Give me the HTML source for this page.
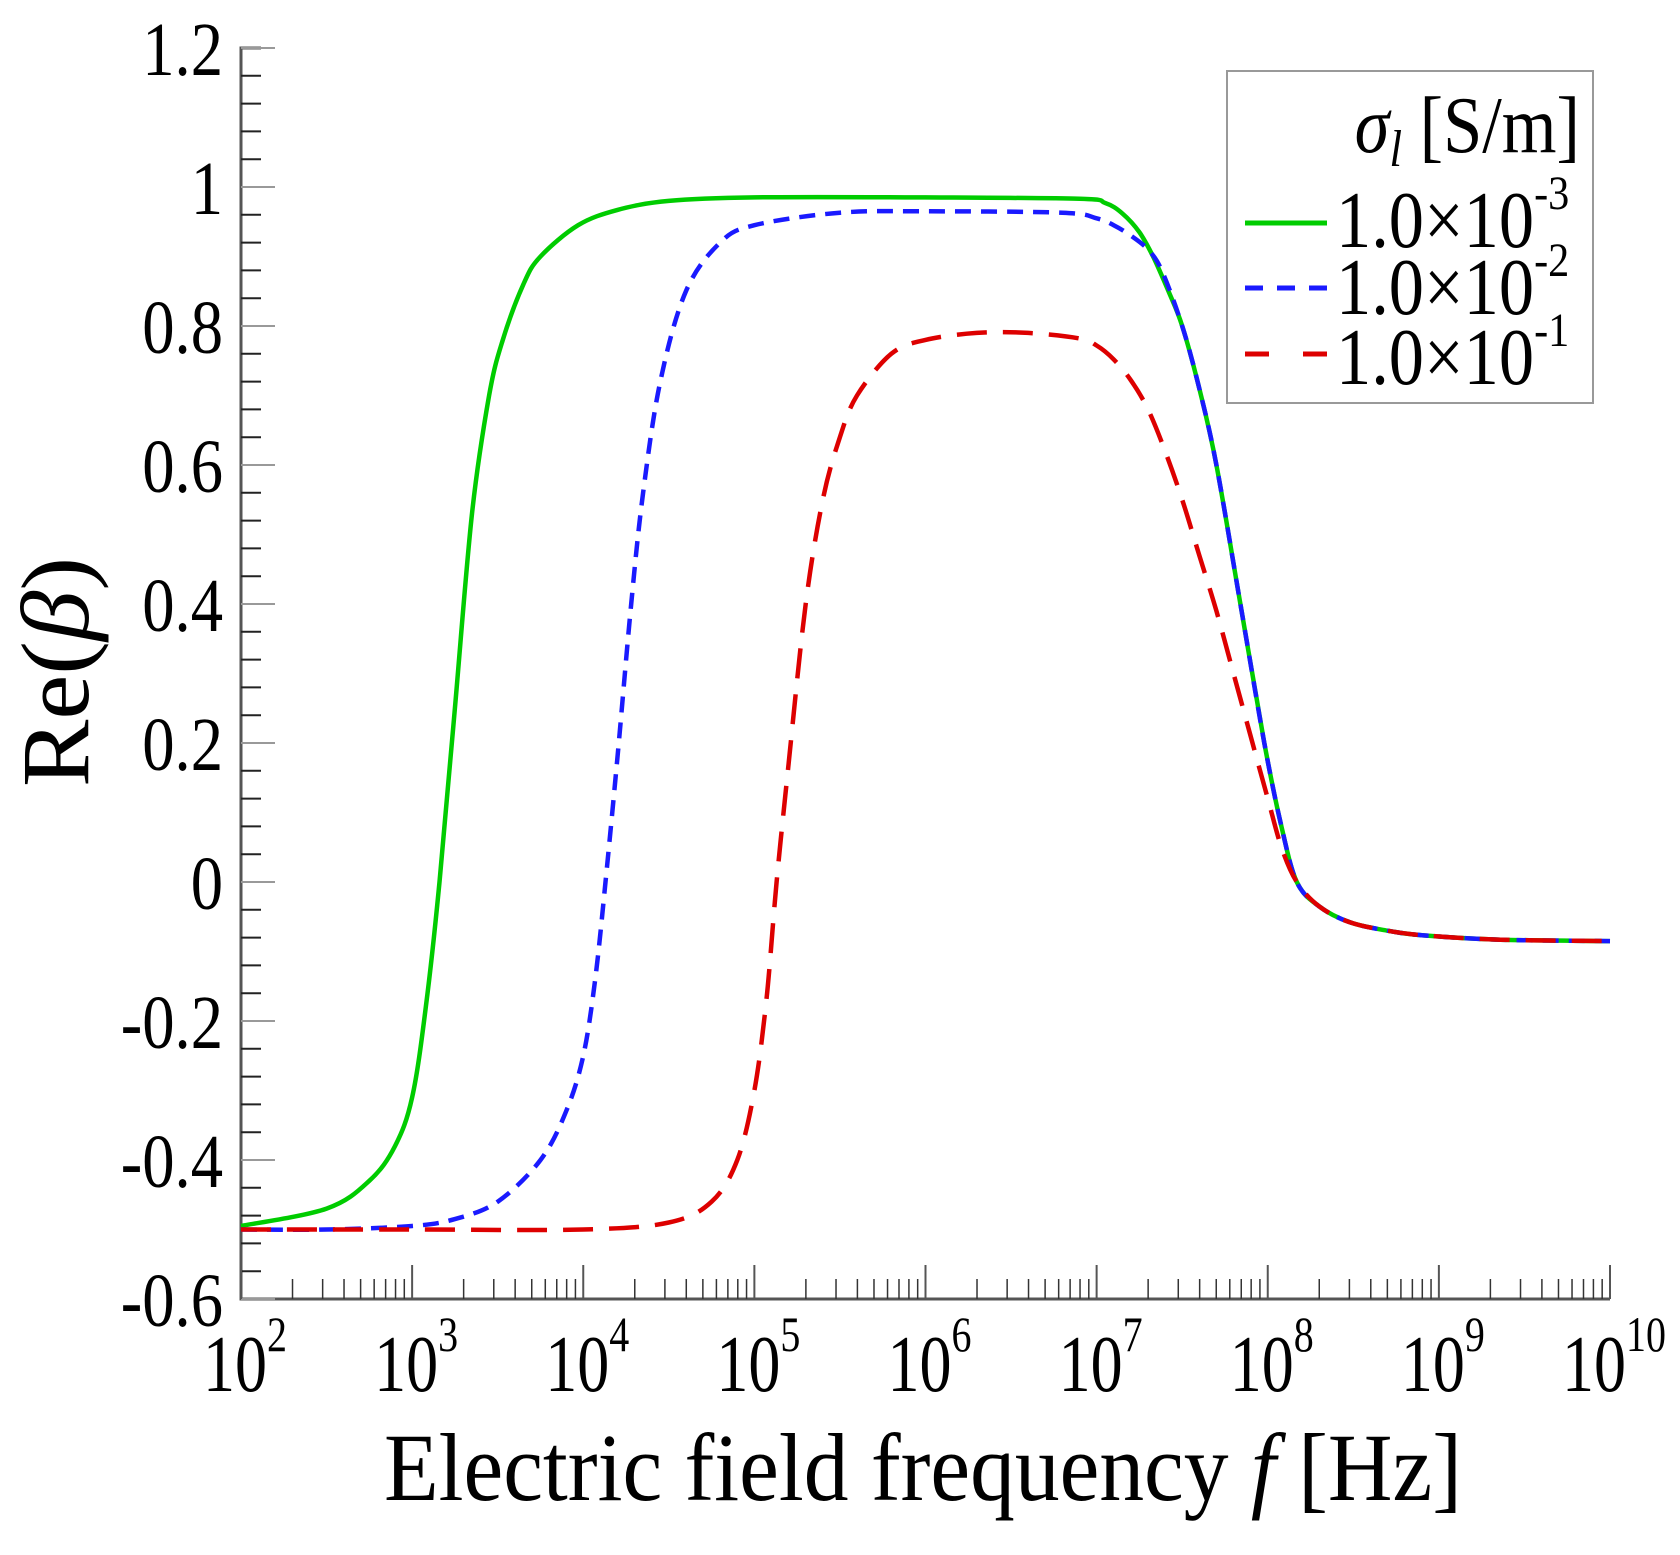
<!DOCTYPE html>
<html><head><meta charset="utf-8"><style>
body{margin:0;background:#fff}
svg{display:block}
text{font-family:"Liberation Serif",serif;fill:#000}
</style></head><body>
<svg id="chart" width="1680" height="1555" viewBox="0 0 1680 1555" xmlns="http://www.w3.org/2000/svg">
<g id="axes"></g>
<g id="series"></g>
<g id="legend">
<rect x="1227" y="71" width="366" height="332" fill="#fff" stroke="#999" stroke-width="2"/>
<text transform="translate(1580,152) scale(0.88,1)" font-size="80" text-anchor="end"><tspan font-style="italic">σ</tspan><tspan font-style="italic" font-size="52" dy="14">l</tspan><tspan dy="-14"> [S/m]</tspan></text>
<line x1="1245" y1="223" x2="1327" y2="223" stroke="#00cc00" stroke-width="5"/>
<line x1="1245" y1="288" x2="1327" y2="288" stroke="#1a1aff" stroke-width="5" stroke-dasharray="18,14"/>
<line x1="1245" y1="354" x2="1327" y2="354" stroke="#dd0000" stroke-width="5" stroke-dasharray="24,34"/>
<text transform="translate(1336,247) scale(0.88,1)" font-size="80">1.0×10<tspan font-size="48" dy="-38">-3</tspan></text>
<text transform="translate(1336,314) scale(0.88,1)" font-size="80">1.0×10<tspan font-size="48" dy="-38">-2</tspan></text>
<text transform="translate(1336,384) scale(0.88,1)" font-size="80">1.0×10<tspan font-size="48" dy="-38">-1</tspan></text>
</g>
</svg>
<script>
const yTicks=[1.2,1,0.8,0.6,0.4,0.2,0,-0.2,-0.4,-0.6];
const yTickLabels=["1.2","1","0.8","0.6","0.4","0.2","0","-0.2","-0.4","-0.6"];
const xDecades=[2,3,4,5,6,7,8,9,10];
const greenLogF=[2,2.5,2.75,2.9,3.0,3.08,3.16,3.25,3.35,3.45,3.53,3.65,3.75,3.97,4.2,4.5,5,6,6.9,7.05,7.15,7.25,7.33,7.42,7.5,7.6,7.7,7.84,7.98,8.08,8.17,8.3,8.48,8.7,8.92,9.36,10];
const greenVals=[-0.495,-0.47,-0.43,-0.38,-0.31,-0.18,0,0.25,0.53,0.7,0.78,0.86,0.9,0.945,0.967,0.98,0.985,0.985,0.983,0.977,0.962,0.935,0.9,0.85,0.8,0.71,0.6,0.4,0.2,0.08,0.0,-0.035,-0.058,-0.07,-0.077,-0.083,-0.085];
const blueLogF=[2,2.5,3.0,3.25,3.5,3.75,3.9,4.0,4.07,4.13,4.2,4.28,4.35,4.45,4.6,4.8,5.0,5.5,6,6.8,7.0,7.1,7.2,7.3,7.38,7.5,7.6,7.7,7.84,7.98,8.08,8.17,8.3,8.48,8.7,8.92,9.36,10];
const blueVals=[-0.5,-0.5,-0.495,-0.485,-0.46,-0.4,-0.33,-0.25,-0.14,0,0.18,0.4,0.56,0.72,0.85,0.92,0.945,0.963,0.965,0.963,0.955,0.945,0.93,0.91,0.88,0.8,0.71,0.6,0.4,0.2,0.08,0.0,-0.035,-0.058,-0.07,-0.077,-0.083,-0.085];
const redLogF=[2,3,4.0,4.5,4.75,4.9,5.0,5.07,5.13,5.2,5.3,5.4,5.5,5.6,5.8,6.0,6.3,6.6,6.9,7.0,7.1,7.2,7.3,7.4,7.5,7.6,7.7,7.8,7.9,8.0,8.08,8.17,8.3,8.48,8.7,8.92,9.36,10];
const redVals=[-0.5,-0.5,-0.5,-0.49,-0.46,-0.4,-0.3,-0.17,0,0.17,0.4,0.55,0.64,0.7,0.76,0.78,0.79,0.79,0.782,0.772,0.752,0.722,0.68,0.62,0.55,0.47,0.39,0.3,0.21,0.12,0.05,0.0,-0.035,-0.058,-0.07,-0.077,-0.083,-0.085];

const NS='http://www.w3.org/2000/svg';
const X0=241,X1=1610,Y0=48,Y1=1299;
function xs(l){return X0+(l-2)/8*(X1-X0);}
function ys(v){return Y0+(1.2-v)/1.8*(Y1-Y0);}
function mk(tag,attrs,parent){const e=document.createElementNS(NS,tag);for(const k in attrs)e.setAttribute(k,attrs[k]);parent.appendChild(e);return e;}
const axes=document.getElementById('axes');
const frame=mk('path',{d:`M${X1},${Y1} L${X0},${Y1} L${X0},${Y0} L${X0+20},${Y0}`,fill:'none',stroke:'#555','stroke-width':3},axes);


for(let i=0;i<yTicks.length;i++){
  const y=ys(yTicks[i]);
  const t=mk('line',{x1:X0,x2:X0+34,y1:y,y2:y,stroke:'#999','stroke-width':2},axes);
  
  
  const lb=mk('text',{transform:`translate(${X0-18},${y+27}) scale(0.85,1)`,'font-size':76,'text-anchor':'end'},axes);
  lb.textContent=yTickLabels[i];
  
  
  if(i<yTicks.length-1){
    for(let k=1;k<5;k++){
      const yy=ys(yTicks[i]-0.04*k);
      const m=mk('line',{x1:X0,x2:X0+20,y1:yy,y2:yy,stroke:'#222','stroke-width':2},axes);
      
      
    }
  }
}
for(let i=0;i<xDecades.length;i++){
  const d=xDecades[i];const x=xs(d);
  const t=mk('line',{x1:x,x2:x,y1:Y1,y2:Y1-34,stroke:'#555','stroke-width':2},axes);
  
  
  const lb=mk('text',{transform:`translate(${x+4},${Y1+92}) scale(0.8,1)`,'font-size':80,'text-anchor':'middle'},axes);
  lb.innerHTML='10<tspan font-size="50" dy="-40">'+d+'</tspan>';
  
  
  if(i<xDecades.length-1){
    for(let k=2;k<10;k++){
      const xx=xs(d+Math.log10(k));
      const m=mk('line',{x1:xx,x2:xx,y1:Y1,y2:Y1-20,stroke:'#333','stroke-width':1.5},axes);
      
      
    }
  }
}
const xt=mk('text',{x:384,y:1500,'font-size':96,textLength:1078,lengthAdjust:'spacingAndGlyphs'},axes);
xt.innerHTML='Electric field frequency <tspan font-style="italic">f</tspan> [Hz]';


const yt=mk('text',{x:-787,y:88,'font-size':96,textLength:230,lengthAdjust:'spacingAndGlyphs',transform:'rotate(-90)'},axes);
yt.innerHTML='Re(<tspan font-style="italic">β</tspan>)';



const ser=document.getElementById('series');
function line(lf,vals,color,dash,name){
  const P=lf.map((l,i)=>[xs(l),ys(vals[i])]);
  let d='M'+P[0][0].toFixed(1)+','+P[0][1].toFixed(1);
  for(let i=0;i<P.length-1;i++){
    const p0=P[Math.max(0,i-1)],p1=P[i],p2=P[i+1],p3=P[Math.min(P.length-1,i+2)];
    const c1=[p1[0]+(p2[0]-p0[0])/6,p1[1]+(p2[1]-p0[1])/6];
    const c2=[p2[0]-(p3[0]-p1[0])/6,p2[1]-(p3[1]-p1[1])/6];
    d+=` C${c1[0].toFixed(1)},${c1[1].toFixed(1)} ${c2[0].toFixed(1)},${c2[1].toFixed(1)} ${p2[0].toFixed(1)},${p2[1].toFixed(1)}`;
  }
  const p=mk('path',{d:d,fill:'none',stroke:color,'stroke-width':4.5,'stroke-linejoin':'round'},ser);
  if(dash)p.setAttribute('stroke-dasharray',dash);
  
  
}
line(greenLogF,greenVals,'#00cc00',null,'series-sigma-1e-3');
line(blueLogF,blueVals,'#1a1aff','16,10','series-sigma-1e-2');
line(redLogF,redVals,'#dd0000','30,16','series-sigma-1e-1');
</script>
</body></html>
